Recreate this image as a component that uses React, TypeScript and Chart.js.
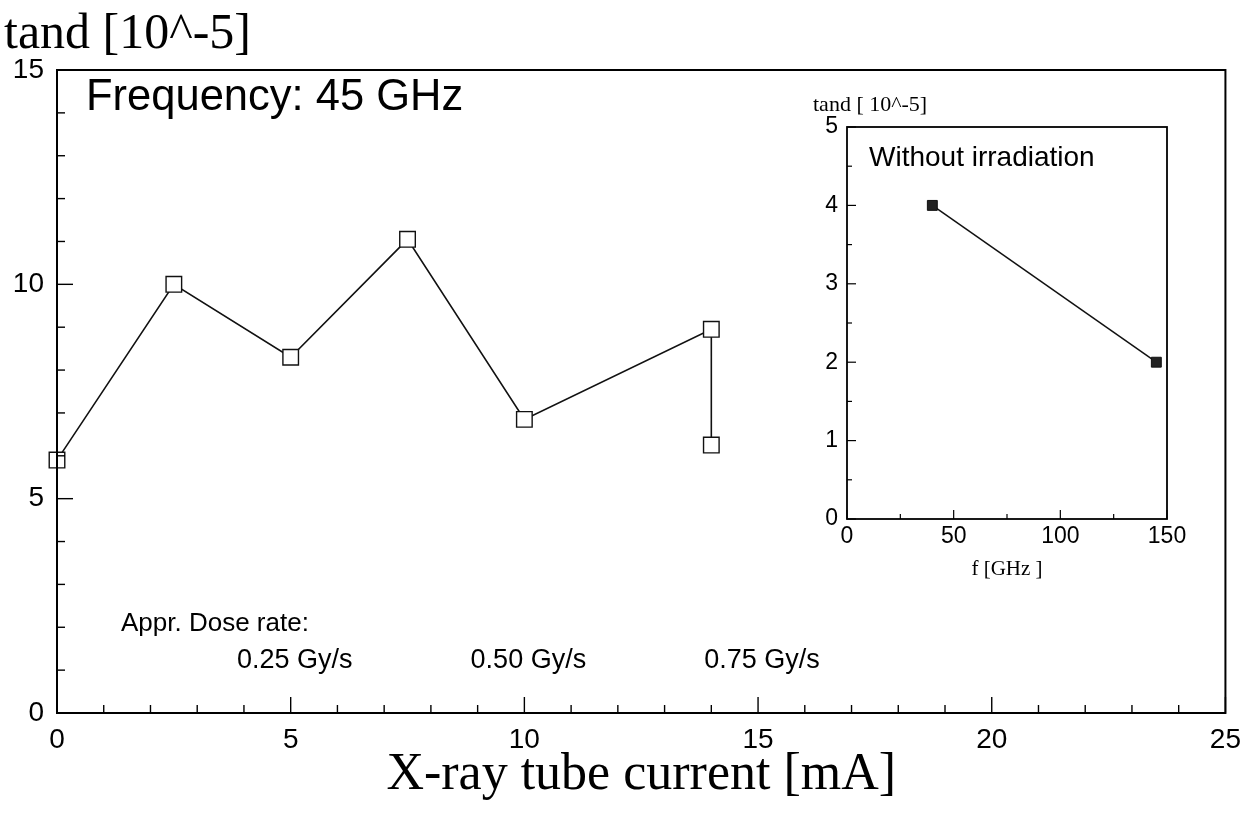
import React, { useEffect, useRef } from 'react';
import { Chart, registerables } from 'chart.js';

Chart.register(...registerables);

// ---- Main chart data ----
const tubeCurrent = [0, 2.5, 5, 7.5, 10, 14, 14];
const tandMain = [5.9, 10.0, 8.3, 11.05, 6.85, 8.95, 6.25];
const mainXLabels = [0, 5, 10, 15, 20, 25];
const mainYLabels = [0, 5, 10, 15];
const doseRates = ['0.25 Gy/s', '0.50 Gy/s', '0.75 Gy/s'];
const doseRateAt = [5, 10, 15];

// ---- Inset data ----
const frequency = [40, 145];
const tandInset = [4, 2];
const insetXLabels = [0, 50, 100, 150];
const insetYLabels = [0, 1, 2, 3, 4, 5];

const SANS = '"Liberation Sans", Arial, sans-serif';
const SERIF = '"Liberation Serif", "Times New Roman", serif';

function range(min: number, max: number, step: number) {
  const out: number[] = [];
  for (let v = min; v <= max + 1e-9; v += step) out.push(Math.round(v * 1000) / 1000);
  return out;
}

const framePlugin = {
  id: 'frame',
  afterDraw(chart: any, _args: any, opts: any) {
    const { ctx, chartArea: a, scales } = chart;
    ctx.save();
    ctx.strokeStyle = '#000';
    ctx.lineWidth = opts.lw;
    ctx.strokeRect(a.left, a.top, a.right - a.left, a.bottom - a.top);
    ctx.lineWidth = opts.tw;
    scales.x.ticks.forEach((t: any) => {
      const px = scales.x.getPixelForValue(t.value);
      const major = opts.xMajor.includes(t.value);
      ctx.beginPath();
      ctx.moveTo(px, a.bottom);
      ctx.lineTo(px, a.bottom - (major ? opts.major : opts.minor));
      ctx.stroke();
    });
    scales.y.ticks.forEach((t: any) => {
      const py = scales.y.getPixelForValue(t.value);
      const major = opts.yMajor.includes(t.value);
      ctx.beginPath();
      ctx.moveTo(a.left, py);
      ctx.lineTo(a.left + (major ? opts.major : opts.minor), py);
      ctx.stroke();
    });
    ctx.restore();
  },
};

const mainTextPlugin = {
  id: 'mainText',
  afterDraw(chart: any) {
    const { ctx, scales } = chart;
    ctx.save();
    ctx.fillStyle = '#000';
    ctx.textBaseline = 'alphabetic';
    ctx.textAlign = 'left';
    ctx.font = `50px ${SERIF}`;
    ctx.fillText('tand [10^-5]', 4, 48);
    ctx.font = `43.5px ${SANS}`;
    ctx.fillText('Frequency: 45 GHz', 86, 110);
    ctx.font = `26px ${SANS}`;
    ctx.fillText('Appr. Dose rate:', 121, 631);
    ctx.textAlign = 'center';
    ctx.font = `27px ${SANS}`;
    doseRates.forEach((lab, i) => {
      ctx.fillText(lab, scales.x.getPixelForValue(doseRateAt[i]) + 4, 668);
    });
    ctx.font = `52px ${SERIF}`;
    ctx.fillText('X-ray tube current [mA]', (scales.x.left + scales.x.right) / 2, 789);
    ctx.restore();
  },
};

const insetTextPlugin = {
  id: 'insetText',
  afterDraw(chart: any) {
    const { ctx, scales } = chart;
    const a = chart.chartArea;
    ctx.save();
    ctx.fillStyle = '#000';
    ctx.textBaseline = 'alphabetic';
    ctx.textAlign = 'left';
    ctx.font = `22px ${SERIF}`;
    ctx.fillText('tand [ 10^-5]', 23, 31);
    ctx.font = `28px ${SANS}`;
    ctx.fillText('Without irradiation', a.left + 22, 86);
    ctx.textAlign = 'center';
    ctx.font = `21px ${SERIF}`;
    ctx.fillText('f [GHz ]', scales.x.getPixelForValue(75), 495);
    ctx.restore();
  },
};

const whiteBg = {
  id: 'whiteBg',
  beforeDraw(chart: any) {
    const { ctx, chartArea: a } = chart;
    ctx.save();
    ctx.fillStyle = '#fff';
    ctx.fillRect(a.left, a.top, a.right - a.left, a.bottom - a.top);
    ctx.restore();
  },
};

export default function App() {
  const mainRef = useRef<HTMLCanvasElement>(null);
  const insetRef = useRef<HTMLCanvasElement>(null);

  useEffect(() => {
    const mainChart = new Chart(mainRef.current as HTMLCanvasElement, {
      type: 'line',
      data: {
        datasets: [
          {
            data: tubeCurrent.map((x, i) => ({ x, y: tandMain[i] })),
            borderColor: '#111',
            borderWidth: 1.6,
            pointStyle: 'rect',
            pointRadius: 11,
            pointBorderWidth: 1.4,
            pointBorderColor: '#111',
            pointBackgroundColor: '#fff',
            tension: 0,
            clip: false,
          } as any,
        ],
      },
      options: {
        responsive: false,
        animation: false,
        events: [],
        layout: { padding: { top: 70, right: 25, left: 0, bottom: 0 } },
        plugins: {
          legend: { display: false },
          tooltip: { enabled: false },
          frame: { lw: 2, tw: 1.4, major: 16, minor: 8, xMajor: mainXLabels, yMajor: mainYLabels },
        } as any,
        scales: {
          x: {
            type: 'linear',
            min: 0,
            max: 25,
            afterBuildTicks: (s: any) => {
              s.ticks = range(0, 25, 1).map((v) => ({ value: v }));
            },
            afterFit: (s: any) => {
              s.height = 105;
            },
            grid: { display: false, drawTicks: false },
            border: { display: false },
            ticks: {
              autoSkip: false,
              maxRotation: 0,
              padding: 10,
              color: '#000',
              font: { family: SANS, size: 28 },
              callback: (v: any) => (mainXLabels.includes(v) ? String(v) : ''),
            },
          },
          y: {
            type: 'linear',
            min: 0,
            max: 15,
            afterBuildTicks: (s: any) => {
              s.ticks = range(0, 15, 1).map((v) => ({ value: v }));
            },
            afterFit: (s: any) => {
              s.width = 57;
            },
            grid: { display: false, drawTicks: false },
            border: { display: false },
            ticks: {
              autoSkip: false,
              padding: 13,
              color: '#000',
              font: { family: SANS, size: 28 },
              callback: (v: any) => (mainYLabels.includes(v) ? String(v) : ''),
            },
          },
        },
      },
      plugins: [framePlugin, mainTextPlugin],
    });

    const insetChart = new Chart(insetRef.current as HTMLCanvasElement, {
      type: 'line',
      data: {
        datasets: [
          {
            data: frequency.map((x, i) => ({ x, y: tandInset[i] })),
            borderColor: '#111',
            borderWidth: 1.5,
            pointStyle: 'rect',
            pointRadius: 7,
            pointBorderWidth: 1,
            pointBorderColor: '#111',
            pointBackgroundColor: '#222',
            tension: 0,
            clip: false,
          } as any,
        ],
      },
      options: {
        responsive: false,
        animation: false,
        events: [],
        layout: { padding: { top: 47, right: 43, left: 0, bottom: 0 } },
        plugins: {
          legend: { display: false },
          tooltip: { enabled: false },
          frame: { lw: 1.8, tw: 1.2, major: 9, minor: 5, xMajor: insetXLabels, yMajor: insetYLabels },
        } as any,
        scales: {
          x: {
            type: 'linear',
            min: 0,
            max: 150,
            afterBuildTicks: (s: any) => {
              s.ticks = range(0, 150, 25).map((v) => ({ value: v }));
            },
            afterFit: (s: any) => {
              s.height = 81;
            },
            grid: { display: false, drawTicks: false },
            border: { display: false },
            ticks: {
              autoSkip: false,
              maxRotation: 0,
              padding: 4,
              color: '#000',
              font: { family: SANS, size: 23 },
              callback: (v: any) => (insetXLabels.includes(v) ? String(v) : ''),
            },
          },
          y: {
            type: 'linear',
            min: 0,
            max: 5,
            afterBuildTicks: (s: any) => {
              s.ticks = range(0, 5, 0.5).map((v) => ({ value: v }));
            },
            afterFit: (s: any) => {
              s.width = 57;
            },
            grid: { display: false, drawTicks: false },
            border: { display: false },
            ticks: {
              autoSkip: false,
              padding: 9,
              color: '#000',
              font: { family: SANS, size: 23 },
              callback: (v: any) => (insetYLabels.includes(v) ? String(v) : ''),
            },
          },
        },
      },
      plugins: [whiteBg, framePlugin, insetTextPlugin],
    });

    return () => {
      mainChart.destroy();
      insetChart.destroy();
    };
  }, []);

  return (
    <div style={{ position: 'absolute', left: 0, top: 0, width: 1251, height: 818, background: '#fff' }}>
      <canvas ref={mainRef} width={1251} height={818} style={{ position: 'absolute', left: 0, top: 0 }} />
      <canvas ref={insetRef} width={420} height={520} style={{ position: 'absolute', left: 790, top: 80 }} />
    </div>
  );
}
